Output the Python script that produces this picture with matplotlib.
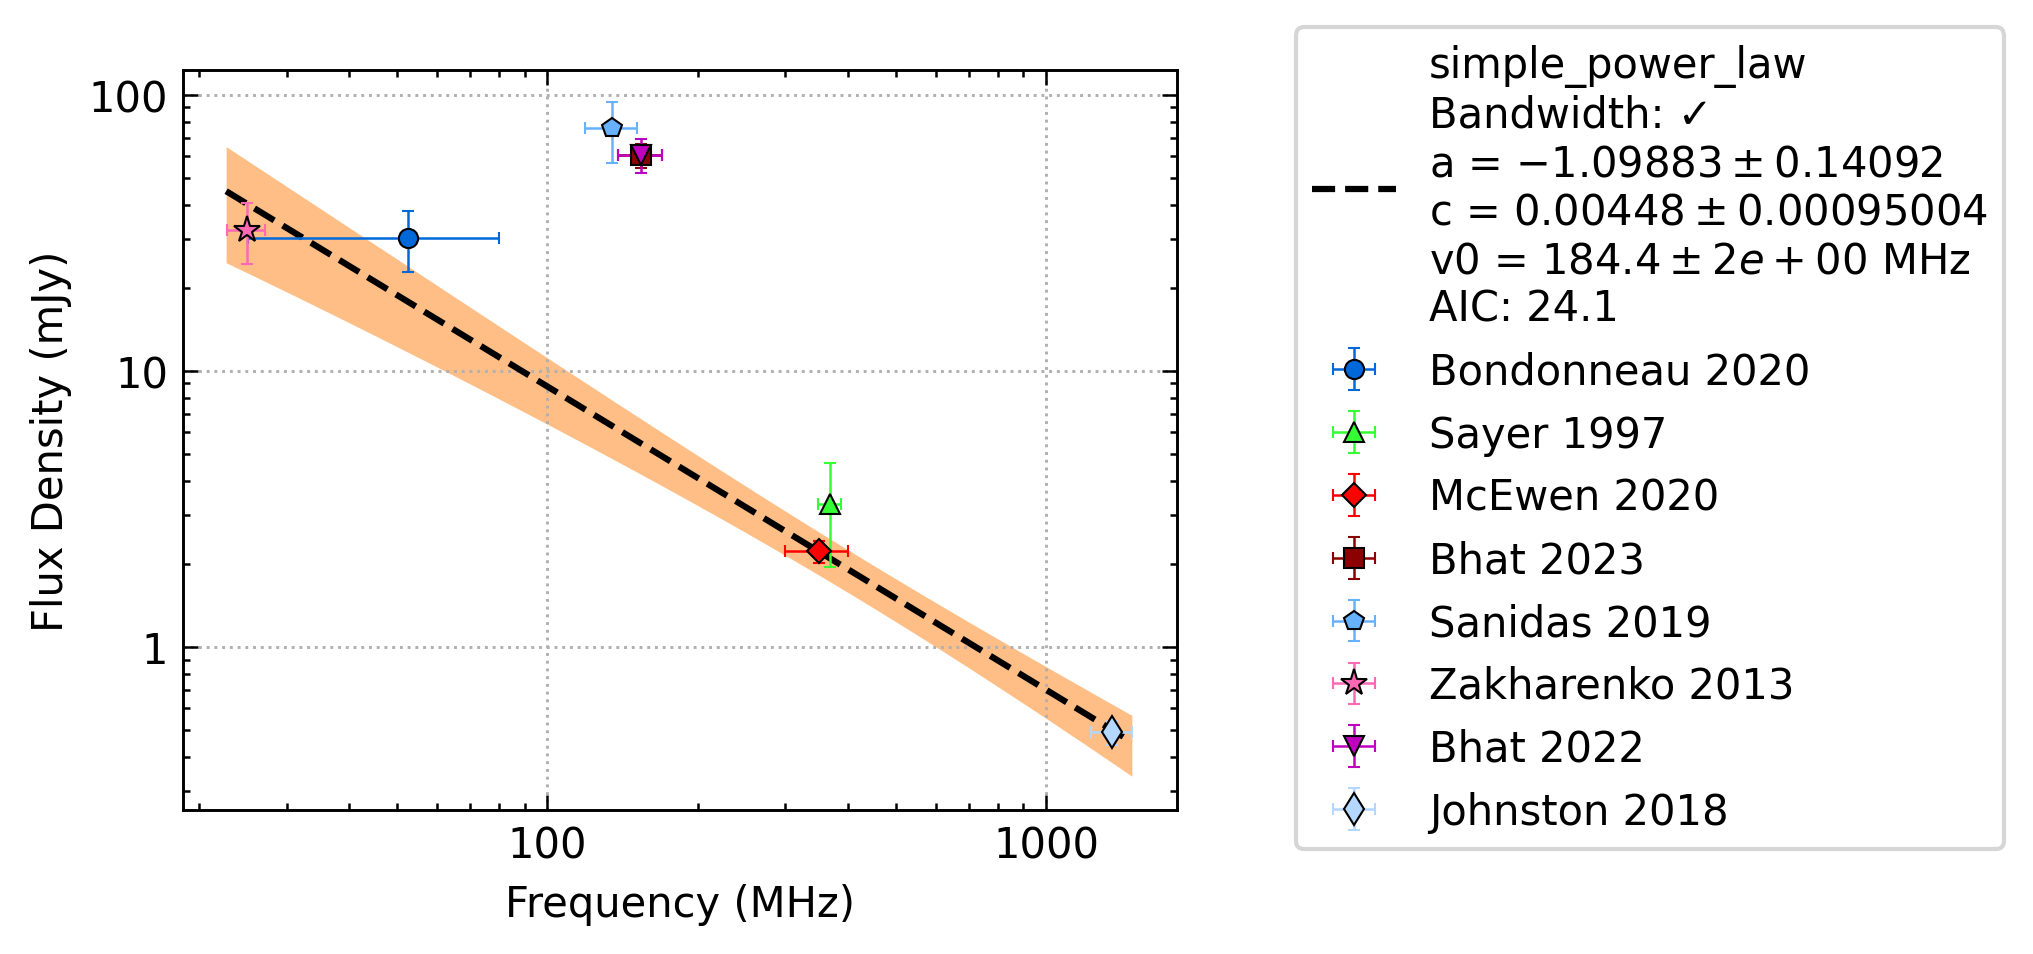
import numpy as np
import matplotlib
matplotlib.use('Agg')
import matplotlib.pyplot as plt

# catalogue points: frequency (MHz), half bandwidth, flux (mJy), flux error
labels = ['Bondonneau 2020', 'Sayer 1997', 'McEwen 2020', 'Bhat 2023',
          'Sanidas 2019', 'Zakharenko 2013', 'Bhat 2022', 'Johnston 2018']
freq = [52.6, 368, 350, 154, 135, 25, 154, 1357]
freq_err = [27.5, 20, 50, 15.4, 16, 2.2, 15.5, 128]
flux = [30.4, 3.3, 2.22, 60.5, 75.5, 32.5, 60.5, 0.49]
flux_err = [7.6, 1.35, 0.2, 6.0, 19, 8.2, 8.5, 0.05]
markers = ['o', '^', 'D', 's', 'p', '*', 'v', 'd']
msizes = [4.6, 5, 4, 4.6, 5, 6.5, 5, 5.5]
colors = ['#0068d9', '#33ff33', '#ff0000', '#8b0000',
          '#66b2ff', '#ff69b4', '#bf00bf', '#b3d7ff']

# fit result shown in legend
fit_a, fit_a_err = -1.09883, 0.14092
fit_c, fit_c_err = 0.00448, 0.00095004  # Jy
fit_v0 = 184.4
fit_rho = -0.56  # a/c correlation
fit_aic = 24.1
fit_range = (22.7, 1485)

fig = plt.figure(figsize=(2033/300, 955/300), dpi=300)
ax = fig.add_axes([0.09, 0.151, 0.489, 0.7747])

x = np.logspace(np.log10(fit_range[0]), np.log10(fit_range[1]), 200)
model = fit_c * 1000 * (x / fit_v0) ** fit_a
L = np.log(x / fit_v0)
crel = fit_c_err / fit_c
rel = np.sqrt(crel**2 + (L*fit_a_err)**2 + 2*L*fit_rho*crel*fit_a_err)
ax.fill_between(x, model*(1 - rel), model*(1 + rel), color='C1', alpha=0.5, lw=0, zorder=1)

fit_label = ('simple_power_law\nBandwidth: \u2713\n'
             'a = $%.5f \\pm %.5f$\n' % (fit_a, fit_a_err) +
             'c = $%.5f \\pm %.8f$\n' % (fit_c, fit_c_err) +
             'v0 = $%.1f \\pm 2e+00$ MHz\n' % fit_v0 +
             'AIC: %.1f' % fit_aic)
ax.plot(x, model, 'k--', lw=1.5, label=fit_label, zorder=3)

for i in range(len(labels)):
    ax.errorbar(freq[i], flux[i], xerr=freq_err[i], yerr=flux_err[i],
                fmt=markers[i], color=colors[i], mfc=colors[i], mec='k', mew=0.5,
                ms=msizes[i], elinewidth=0.6, capsize=1.5, capthick=0.7,
                label=labels[i], zorder=4)

ax.set_xscale('log')
ax.set_yscale('log')
ax.set_xlim(18.6, 1830)
ax.set_ylim(0.257, 123)
ax.xaxis.set_major_formatter(matplotlib.ticker.ScalarFormatter())
ax.yaxis.set_major_formatter(matplotlib.ticker.ScalarFormatter())
ax.tick_params(which='both', direction='in', top=True, right=True, labelsize=10)
ax.tick_params(which='major', length=3.5, width=0.6)
ax.tick_params(which='minor', length=1.75, width=0.6)
for s in ax.spines.values():
    s.set_linewidth(0.7)
ax.grid(True, which='major', ls=':', color='#b0b0b0', lw=0.7)
ax.set_xlabel('Frequency (MHz)', fontsize=10)
ax.set_ylabel('Flux Density (mJy)', fontsize=10)

fig.legend(*ax.get_legend_handles_labels(), loc='center left',
           bbox_to_anchor=(0.627, 0.54), fontsize=10)

plt.savefig('out.png', dpi=300)
